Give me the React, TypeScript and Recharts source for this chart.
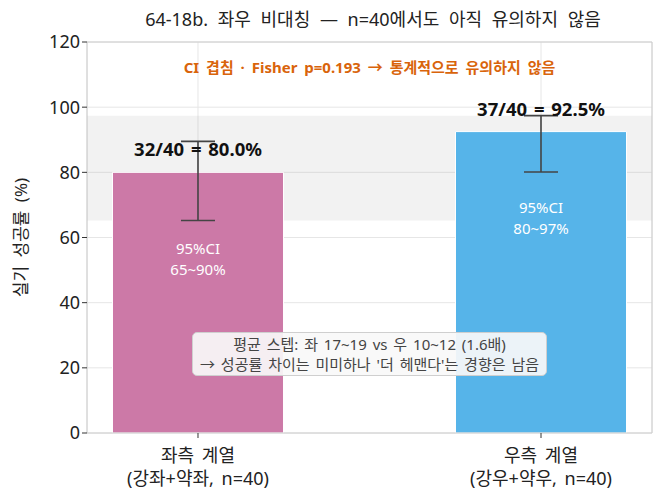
import React from 'react';
import {
  ComposedChart,
  Bar,
  XAxis,
  YAxis,
  CartesianGrid,
  ErrorBar,
  ReferenceArea,
  ReferenceLine,
  Cell,
  LabelList,
  Label,
} from 'recharts';

const FONT = '"Noto Sans", "Noto Sans CJK KR", sans-serif';

const categories = ['좌측 계열', '우측 계열'];
const categorySubs = ['(강좌+약좌, n=40)', '(강우+약우, n=40)'];
const successes = [32, 37];
const totals = [40, 40];
const rates = [80.0, 92.5];
const ciLow = [65.2, 80.1];
const ciHigh = [89.5, 97.4];
const colors = ['#CC79A7', '#56B4E9'];
const yTicks = [0, 20, 40, 60, 80, 100, 120];

const titleText = '64-18b. 좌우 비대칭 — n=40에서도 아직 유의하지 않음';
const noteText = 'CI 겹침 · Fisher p=0.193 → 통계적으로 유의하지 않음';
const yLabelText = '실기 성공률 (%)';
const boxLines = [
  '평균 스텝: 좌 17~19 vs 우 10~12 (1.6배)',
  "→ 성공률 차이는 미미하나 '더 헤맨다'는 경향은 남음",
];

const data = categories.map((c, i) => ({
  x: i,
  name: c,
  rate: rates[i],
  err: [rates[i] - ciLow[i], ciHigh[i] - rates[i]],
}));

const X_DOMAIN: [number, number] = [-0.3236, 1.3236];

const XTick = (props: any) => {
  const { x, y, payload } = props;
  const i = payload.value as number;
  return (
    <text
      x={x}
      y={y + 21.5}
      textAnchor="middle"
      fontFamily={FONT}
      fontSize={18}
      fill="#222"
      style={{ wordSpacing: 3 }}
    >
      <tspan x={x}>{categories[i]}</tspan>
      <tspan x={x} dy={23}>
        {categorySubs[i]}
      </tspan>
    </text>
  );
};

const TopLabel = (props: any) => {
  const { x, y, width, index } = props;
  return (
    <text
      x={x + width / 2}
      y={y - 23.5}
      textAnchor="middle"
      dominantBaseline="central"
      fontSize={18.5}
      fontWeight="bold"
      fill="#111"
      fontFamily={FONT}
      style={{ wordSpacing: 2 }}
    >
      {`${successes[index]}/${totals[index]} = ${rates[index].toFixed(1)}%`}
    </text>
  );
};

const InnerLabel = (props: any) => {
  const { x, y, width, index } = props;
  const cx = x + width / 2;
  const cy = y + 86;
  return (
    <g fontFamily={FONT} fontSize={15} fill="#ffffff">
      <text x={cx} y={cy - 10.5} textAnchor="middle" dominantBaseline="central">
        95%CI
      </text>
      <text x={cx} y={cy + 10.5} textAnchor="middle" dominantBaseline="central">
        {`${Math.round(ciLow[index])}~${Math.round(ciHigh[index])}%`}
      </text>
    </g>
  );
};

const YLabel = (props: any) => {
  const vb = props.viewBox || {};
  const cy = (vb.y ?? 42) + (vb.height ?? 391) / 2;
  const cx = 20;
  return (
    <text
      x={cx}
      y={cy}
      transform={`rotate(-90, ${cx}, ${cy})`}
      textAnchor="middle"
      dominantBaseline="central"
      fontSize={17}
      fill="#222"
      fontFamily={FONT}
      style={{ wordSpacing: 4 }}
    >
      {yLabelText}
    </text>
  );
};

export default function App() {
  const bandLow = Math.min(...ciLow);
  const bandHigh = Math.max(...ciHigh);
  return (
    <div
      style={{
        position: 'absolute',
        left: 0,
        top: 0,
        width: 663,
        height: 499,
        background: '#fff',
        fontFamily: FONT,
      }}
    >
      <ComposedChart
        width={663}
        height={499}
        data={data}
        margin={{ top: 42, right: 11, bottom: 0, left: 0 }}
      >
        <CartesianGrid stroke="#e6e6e6" strokeWidth={1} />
        <ReferenceArea
          y1={bandLow}
          y2={bandHigh}
          x1={X_DOMAIN[0]}
          x2={X_DOMAIN[1]}
          fill="#808080"
          fillOpacity={0.1}
          stroke="none"
          ifOverflow="visible"
        />
        <XAxis
          type="number"
          dataKey="x"
          domain={X_DOMAIN}
          ticks={[0, 1]}
          allowDataOverflow
          interval={0}
          axisLine={{ stroke: '#cccccc' }}
          tickLine={{ stroke: '#333' }}
          tickSize={5}
          tick={<XTick />}
          height={66}
        />
        <YAxis
          type="number"
          domain={[0, 120]}
          ticks={yTicks}
          interval={0}
          width={87}
          axisLine={{ stroke: '#cccccc' }}
          tickLine={{ stroke: '#333' }}
          tickSize={5}
          tick={{ fontSize: 18, fill: '#222', fontFamily: FONT }}
        >
          <Label content={<YLabel />} />
        </YAxis>
        <ReferenceLine y={120} stroke="#cccccc" ifOverflow="visible" />
        <ReferenceLine x={X_DOMAIN[1]} stroke="#cccccc" ifOverflow="visible" />
        <Bar dataKey="rate" barSize={171} stroke="#ffffff" strokeWidth={1} isAnimationActive={false}>
          {data.map((d, i) => (
            <Cell key={i} fill={colors[i]} />
          ))}
          <ErrorBar dataKey="err" width={17} stroke="#444" strokeWidth={1.6} direction="y" />
          <LabelList dataKey="rate" content={<TopLabel />} />
          <LabelList dataKey="rate" content={<InnerLabel />} />
        </Bar>
      </ComposedChart>

      <div
        style={{
          position: 'absolute',
          left: 0,
          width: 746,
          top: 6,
          textAlign: 'center',
          fontSize: 18,
          wordSpacing: 5,
          color: '#222',
          lineHeight: '26px',
          whiteSpace: 'nowrap',
        }}
      >
        {titleText}
      </div>
      <div
        style={{
          position: 'absolute',
          left: 87,
          width: 565,
          top: 55,
          textAlign: 'center',
          fontSize: 15,
          wordSpacing: 3,
          fontWeight: 'bold',
          color: '#D9640B',
          lineHeight: '24px',
          whiteSpace: 'nowrap',
        }}
      >
        {noteText}
      </div>
      <div
        style={{
          position: 'absolute',
          left: 192,
          top: 332,
          width: 355,
          height: 44,
          boxSizing: 'border-box',
          background: 'rgba(248,248,248,0.92)',
          border: '1px solid #cfcfcf',
          borderRadius: 5,
          textAlign: 'center',
          fontSize: 15,
          wordSpacing: 2,
          color: '#444',
          lineHeight: '20px',
          paddingTop: 1,
          whiteSpace: 'nowrap',
        }}
      >
        <div>{boxLines[0]}</div>
        <div>{boxLines[1]}</div>
      </div>
    </div>
  );
}
